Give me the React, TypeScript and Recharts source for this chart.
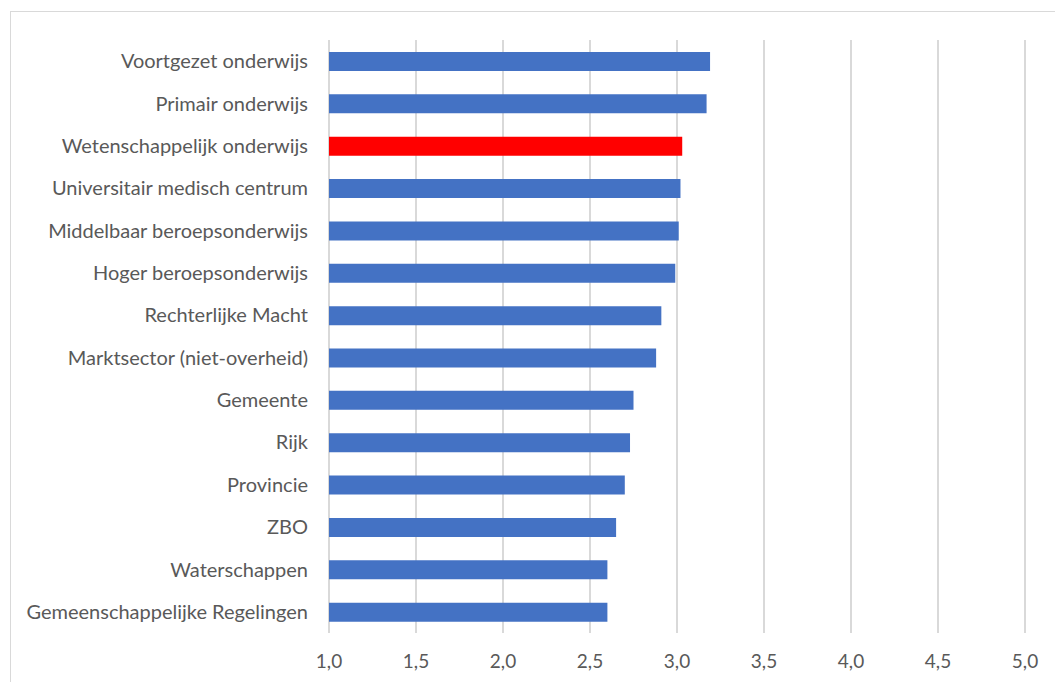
import { Bar, BarChart, CartesianGrid, Cell, XAxis, YAxis } from "recharts";

const sectors = [
  "Voortgezet onderwijs",
  "Primair onderwijs",
  "Wetenschappelijk onderwijs",
  "Universitair medisch centrum",
  "Middelbaar beroepsonderwijs",
  "Hoger beroepsonderwijs",
  "Rechterlijke Macht",
  "Marktsector (niet-overheid)",
  "Gemeente",
  "Rijk",
  "Provincie",
  "ZBO",
  "Waterschappen",
  "Gemeenschappelijke Regelingen"
];

const scores = [3.19, 3.17, 3.03, 3.02, 3.01, 2.99, 2.91, 2.88, 2.75, 2.73, 2.7, 2.65, 2.6, 2.6];

const highlighted = "Wetenschappelijk onderwijs";

const xTicks = [1, 1.5, 2, 2.5, 3, 3.5, 4, 4.5, 5];

const data = sectors.map((name, i) => ({ name, score: scores[i] }));

const font = "Lato, 'Open Sans', sans-serif";
const textColor = "#595959";

export default function App() {
  return (
    <div style={{ position: "absolute", left: 0, top: 0, width: 1055, height: 682, overflow: "hidden", background: "#fff" }}>
      <div
        style={{
          position: "absolute",
          left: 10,
          top: 11,
          width: 1045,
          height: 671,
          borderTop: "1px solid #d9d9d9",
          borderLeft: "1px solid #d9d9d9",
          boxSizing: "border-box"
        }}
      />
      <div style={{ position: "absolute", left: 0, top: 0 }}>
        <BarChart
          width={1055}
          height={682}
          data={data}
          layout="vertical"
          margin={{ top: 40, right: 30, bottom: 9, left: 0 }}
          barCategoryGap={0}
        >
          <CartesianGrid horizontal={false} stroke="#d9d9d9" strokeWidth={2} />
          <XAxis
            type="number"
            domain={[1, 5]}
            ticks={xTicks}
            tickFormatter={(v: number) => v.toFixed(1).replace(".", ",")}
            axisLine={false}
            tickLine={false}
            tickSize={6}
            tickMargin={16}
            height={40}
            tick={{ fill: textColor, fontSize: 19, fontFamily: font }}
          />
          <YAxis
            type="category"
            dataKey="name"
            width={329}
            axisLine={false}
            tickLine={false}
            tickSize={6}
            tickMargin={15}
            interval={0}
            tick={{ fill: textColor, fontSize: 20, fontFamily: font }}
          />
          <Bar dataKey="score" barSize={19} isAnimationActive={false}>
            {data.map((d) => (
              <Cell key={d.name} fill={d.name === highlighted ? "#ff0000" : "#4472c4"} />
            ))}
          </Bar>
        </BarChart>
      </div>
    </div>
  );
}
